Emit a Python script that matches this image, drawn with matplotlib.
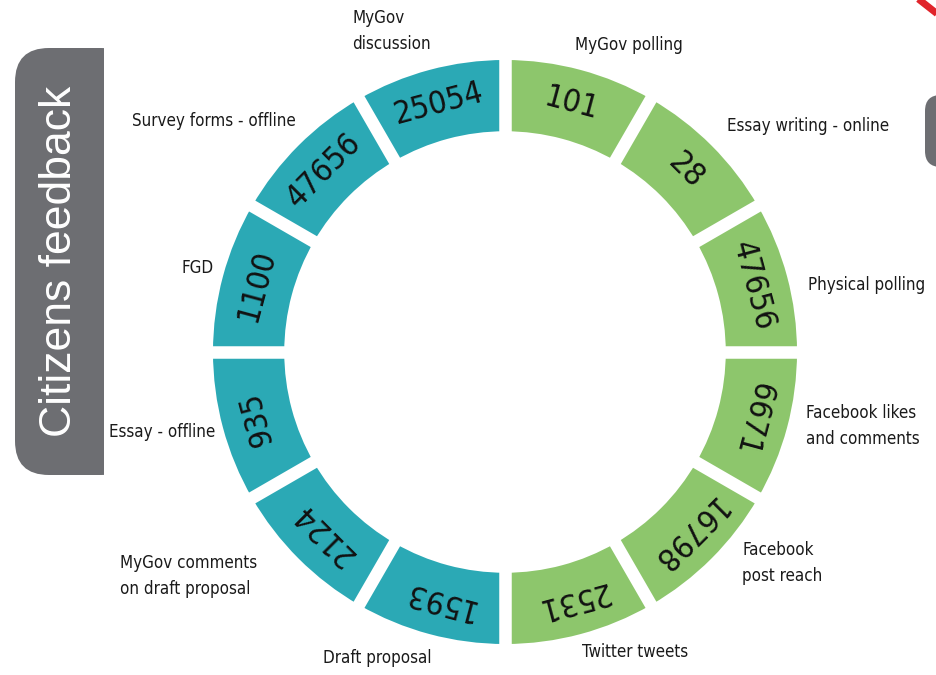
import numpy as np
import matplotlib
matplotlib.use("Agg")
from matplotlib import pyplot as plt
from matplotlib.patches import FancyBboxPatch, Rectangle

# clockwise from the top
categories = ["MyGov polling", "Essay writing - online", "Physical polling",
              "Facebook likes\nand comments", "Facebook\npost reach", "Twitter tweets",
              "Draft proposal", "MyGov comments\non draft proposal", "Essay - offline",
              "FGD", "Survey forms - offline", "MyGov\ndiscussion"]
counts = [101, 28, 47656, 6671, 16798, 2531, 1593, 2124, 935, 1100, 47656, 25054]
channel = ["online"] * 6 + ["offline"] * 6
title = "Citizens feedback"

# label anchors in pixels (x, y, ha)
label_pos = [(575, 45, "left"), (727, 126, "left"), (808, 285, "left"),
             (806, 426, "left"), (742, 563, "left"), (635, 652, "center"),
             (377, 658, "center"), (120, 576, "left"), (215, 432, "right"),
             (214, 268, "right"), (296, 121, "right"), (352, 31, "left")]

colors = {"online": "#8dc66c", "offline": "#2ba9b5"}
W, H = 936, 675
cx, cy, R = 505, 352, 292
inner = 0.756

fig = plt.figure(figsize=(W / 100, H / 100), dpi=100)
bg = fig.add_axes([0, 0, 1, 1])
bg.set_xlim(0, W)
bg.set_ylim(H, 0)
bg.axis("off")

# left grey tab
tab = FancyBboxPatch((15, 48), 120, 427, boxstyle="round,pad=0,rounding_size=34",
                     fc="#6d6e72", ec="none", zorder=1)
bg.add_patch(tab)
bg.add_patch(Rectangle((104, 40), 40, 445, fc="white", ec="none", zorder=1.5))
bg.text(60, 261, title, rotation=90, color="white", fontsize=32,
        family="Liberation Sans", ha="center", va="center", zorder=3)

# right tab and red corner
bg.add_patch(FancyBboxPatch((925, 95), 40, 72, boxstyle="round,pad=0,rounding_size=16",
                            fc="#6d6e72", ec="none", zorder=1))
bg.plot([912, 940], [-6, 16], color="#e0242b", lw=5, solid_capstyle="butt", zorder=1)

for lab, (x, y, ha) in zip(categories, label_pos):
    bg.text(x, y, lab, ha=ha, va="center", fontsize=12.2, color="#1a1a1a",
            family="DejaVu Sans", stretch="condensed", linespacing=1.52, zorder=3)

ax = fig.add_axes([(cx - R) / W, (H - cy - R) / H, 2 * R / W, 2 * R / H])
ax.pie([1] * len(counts), colors=[colors[c] for c in channel], startangle=90,
       counterclock=False, radius=1, wedgeprops=dict(width=1 - inner, linewidth=0))
ax.set_xlim(-1, 1)
ax.set_ylim(-1, 1)
ax.set_aspect("equal")
ax.axis("off")

# white gaps between segments
for k in range(len(counts)):
    t = np.deg2rad(90 - 30 * k)
    ax.plot([0.6 * np.cos(t), 1.05 * np.cos(t)], [0.6 * np.sin(t), 1.05 * np.sin(t)],
            color="white", lw=9, solid_capstyle="butt")

rmid = (1 + inner) / 2
for k, n in enumerate(counts):
    a = 15 + 30 * k
    t = np.deg2rad(90 - a)
    ax.text(rmid * np.cos(t), rmid * np.sin(t), str(n), rotation=-a,
            rotation_mode="anchor", ha="center", va="center", fontsize=23,
            family="DejaVu Sans", stretch="condensed", color="#111111")

plt.savefig("out.png", dpi=100)
